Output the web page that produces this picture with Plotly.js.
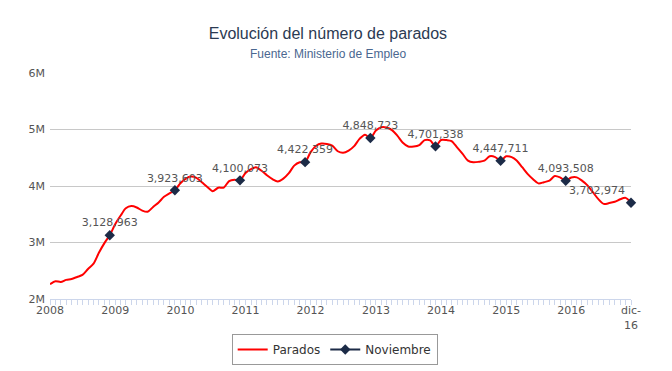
<!DOCTYPE html>
<html>
<head>
<meta charset="utf-8">
<script src="https://cdn.plot.ly/plotly-3.0.1.min.js"></script>
<style>html,body{margin:0;padding:0;background:#fff;}#chart{width:672px;height:371px;}</style>
</head>
<body>
<div id="chart"></div>
<script>
// Monthly dates Jan 2008 - Dec 2016
const years = [2008,2009,2010,2011,2012,2013,2014,2015,2016];
const months = [];
years.forEach(y => { for (let m = 1; m <= 12; m++) months.push(y + '-' + String(m).padStart(2,'0') + '-01'); });

const parados = [
  2261454,2315331,2300975,2338517,2353985,2390403,2426435,2530001,2625368,2818026,2989269,3128963,
  3327801,3481859,3605402,3644041,3620139,3564889,3544105,3629080,3709447,3808353,3868946,3923603,
  4048493,4130625,4166613,4142425,4066202,3982368,3908262,3969661,3972463,4085976,4110294,4100073,
  4231003,4299263,4333669,4269360,4189659,4121801,4079742,4130927,4226744,4360926,4420462,4422359,
  4599829,4712098,4750867,4744235,4714122,4615269,4587455,4625634,4705279,4833521,4907817,4848723,
  4980778,5040222,5035243,4989193,4890928,4763680,4698814,4698783,4724355,4811383,4808908,4701338,
  4814435,4812486,4795866,4684301,4572385,4449701,4419860,4427930,4447650,4526289,4512153,4447711,
  4525691,4512116,4451939,4333016,4215031,4120304,4046276,4067955,4094042,4176369,4149298,4093508,
  4150009,4152986,4094770,4011171,3891403,3767054,3683061,3697496,3720297,3764982,3789823,3702974
];

const markDates = ['2008-12-01','2009-12-01','2010-12-01','2011-12-01','2012-12-01','2013-12-01','2014-12-01','2015-12-01','2016-12-01'];
const markValues = [3128963,3923603,4100073,4422359,4848723,4701338,4447711,4093508,3702974];
const markLabels = ['3,128,963','3,923,603','4,100,073','4,422,359','4,848,723','4,701,338','4,447,711','4,093,508','3,702,974'];

const xTickVals = ['2008-01-01','2009-01-01','2010-01-01','2011-01-01','2012-01-01','2013-01-01','2014-01-01','2015-01-01','2016-01-01','2016-12-01'];
const xTickText = ['2008','2009','2010','2011','2012','2013','2014','2015','2016','dic-<br>16'];
const yTickVals = [2000000,3000000,4000000,5000000,6000000];
const yTickText = ['2M','3M','4M','5M','6M'];

const navy = '#1c2b47';
const textPos = markLabels.map((_, i) => i === markLabels.length - 1 ? 'top left' : 'top center');

const traces = [
  {
    x: months, y: parados, name: 'Parados', type: 'scatter', mode: 'lines',
    line: {color: '#ff0000', width: 2, shape: 'spline', smoothing: 0.8},
    hoverinfo: 'skip'
  },
  {
    x: markDates, y: markValues, name: 'Noviembre', type: 'scatter', mode: 'markers+text',
    text: markLabels, textposition: textPos,
    textfont: {family: 'DejaVu Sans', size: 11, color: '#555555'},
    marker: {symbol: 'diamond', size: 8, color: navy},
    showlegend: false, cliponaxis: false
  },
  {
    x: [null], y: [null], name: 'Noviembre', type: 'scatter', mode: 'lines+markers',
    line: {color: navy, width: 2}, marker: {symbol: 'diamond', size: 8, color: navy}
  }
];

const layout = {
  width: 672, height: 371,
  margin: {l: 50, r: 41, t: 73, b: 72},
  paper_bgcolor: '#fff', plot_bgcolor: '#fff',
  font: {family: 'DejaVu Sans', size: 11, color: '#555'},
  title: {
    text: 'Evolución del número de parados',
    font: {family: 'Liberation Sans', size: 16, color: '#2b3a52'},
    x: 0.488, xanchor: 'center', yref: 'container', y: 1 - 33/371, yanchor: 'middle'
  },
  annotations: [{
    text: 'Fuente: Ministerio de Empleo', showarrow: false,
    xref: 'paper', x: 0.478, xanchor: 'center',
    yref: 'paper', y: (299 - 54) / 226, yanchor: 'middle',
    font: {family: 'Liberation Sans', size: 12, color: '#4a6790'}
  }],
  xaxis: {
    type: 'date', range: ['2008-01-01','2016-12-01'],
    tickmode: 'array', tickvals: xTickVals, ticktext: xTickText,
    ticks: 'outside', ticklen: 5, tickcolor: '#ccd6eb', tickwidth: 1,
    minor: {dtick: 'M1', tick0: '2008-01-01', ticks: 'outside', ticklen: 5, tickcolor: '#ccd6eb', showgrid: false},
    showline: true, linecolor: '#ccd6eb', linewidth: 1,
    showgrid: false, zeroline: false,
    tickfont: {family: 'DejaVu Sans', size: 11, color: '#555'},
    ticklabelstandoff: -4,
    fixedrange: true
  },
  yaxis: {
    range: [2000000, 6000000],
    tickmode: 'array', tickvals: yTickVals, ticktext: yTickText,
    showgrid: true, gridcolor: '#c8c8c8', gridwidth: 1,
    zeroline: false, showline: false, ticks: '',
    tickfont: {family: 'DejaVu Sans', size: 11, color: '#555'},
    ticklabelstandoff: 4,
    fixedrange: true
  },
  showlegend: true,
  legend: {
    orientation: 'h', x: 0.49, xanchor: 'center',
    yref: 'container', y: (371 - 334) / 371, yanchor: 'top',
    bordercolor: '#999', borderwidth: 1,
    font: {family: 'DejaVu Sans', size: 12, color: '#333'},
    itemwidth: 30, tracegroupgap: 0
  }
};

Plotly.newPlot('chart', traces, layout, {displayModeBar: false, staticPlot: true});
</script>
</body>
</html>
